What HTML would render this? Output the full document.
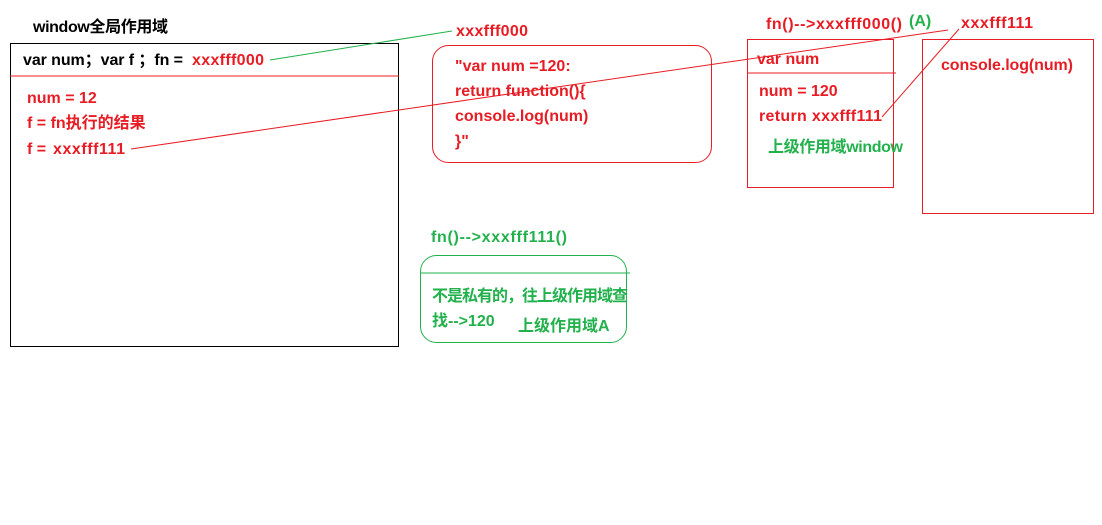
<!DOCTYPE html>
<html><head><meta charset="utf-8"><style>
html,body{margin:0;padding:0;background:#fff;width:1102px;height:525px;overflow:hidden}
svg text{font-family:"Liberation Sans","Noto Sans CJK SC",sans-serif;font-weight:bold;font-size:16px}
</style></head><body>
<svg width="1102" height="525" xmlns="http://www.w3.org/2000/svg">
<g fill="none" stroke-width="1">
<rect x="10.5" y="43.5" width="388" height="303" stroke="#000"/>
<line x1="10" y1="76" x2="399" y2="76" stroke="#e81c24"/>
<rect x="432.5" y="45.5" width="279" height="117" rx="16" stroke="#e81c24"/>
<rect x="747.5" y="39.5" width="146" height="148" stroke="#e81c24"/>
<line x1="747" y1="73" x2="896" y2="73" stroke="#e81c24"/>
<rect x="922.5" y="39.5" width="171" height="174" stroke="#e81c24"/>
<rect x="420.5" y="255.5" width="206" height="87" rx="16" stroke="#22b14c"/>
<line x1="420" y1="273" x2="630" y2="273" stroke="#22b14c"/>
<line x1="270" y1="60" x2="452" y2="31" stroke="#22b14c"/>
<line x1="131" y1="149" x2="948" y2="30" stroke="#e81c24"/>
<line x1="882" y1="117" x2="959" y2="29" stroke="#e81c24"/>
</g>
<g fill="#000">
<text x="33" y="32" textLength="135">window全局作用域</text>
<text x="23" y="65" textLength="160">var num；var f ；fn =</text>
</g>
<g fill="#e81c24">
<text x="192" y="65" textLength="72">xxxfff000</text>
<text x="27" y="103">num = 12</text>
<text x="27" y="128">f = fn执行的结果</text>
<text x="27" y="154">f = </text>
<text x="53" y="154" textLength="72">xxxfff111</text>
<text x="456" y="36" textLength="72">xxxfff000</text>
<text x="455" y="71">"var num =120:</text>
<text x="455" y="96">return function(){</text>
<text x="455" y="121">console.log(num)</text>
<text x="455" y="146">}"</text>
<text x="766" y="29" textLength="136">fn()--&gt;xxxfff000()</text>
<text x="961" y="28" textLength="72">xxxfff111</text>
<text x="757" y="64">var num</text>
<text x="759" y="96">num = 120</text>
<text x="759" y="121" textLength="123">return xxxfff111</text>
<text x="941" y="70" textLength="132">console.log(num)</text>
</g>
<g fill="#22b14c">
<text x="909" y="26">(A)</text>
<text x="768" y="152" textLength="135">上级作用域window</text>
<text x="431" y="242" textLength="136">fn()--&gt;xxxfff111()</text>
<text x="432" y="301" textLength="196">不是私有的，往上级作用域查</text>
<text x="432" y="326">找--&gt;120</text>
<text x="518" y="331">上级作用域A</text>
</g>
</svg>
</body></html>
